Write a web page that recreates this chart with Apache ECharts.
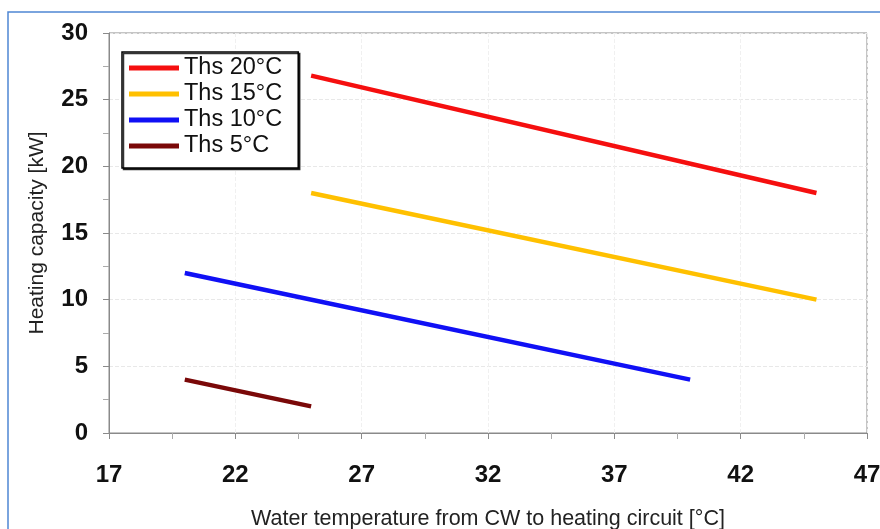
<!DOCTYPE html>
<html>
<head>
<meta charset="utf-8">
<script src="https://cdn.jsdelivr.net/npm/echarts@6/dist/echarts.min.js"></script>
<style>html,body{margin:0;padding:0;background:#fff;overflow:hidden;}#c{width:880px;height:529px;}</style>
</head>
<body>
<div id="c"></div>
<script>
var seriesNames = ['Ths 20°C', 'Ths 15°C', 'Ths 10°C', 'Ths 5°C'];
var x20 = [25, 45];  var y20 = [26.8, 18];
var x15 = [25, 45];  var y15 = [18, 10];
var x10 = [20, 40];  var y10 = [12, 4];
var x5  = [20, 25];  var y5  = [4, 2];
var xTicks = [17, 22, 27, 32, 37, 42, 47];
var yTicks = [0, 5, 10, 15, 20, 25, 30];
var colors = ['#f50f0f', '#ffc000', '#1010f5', '#7a0808'];

function pairs(xs, ys) { return xs.map(function (x, i) { return [x, ys[i]]; }); }
var allX = [x20, x15, x10, x5];
var allY = [y20, y15, y10, y5];

var chart = echarts.init(document.getElementById('c'));
chart.setOption({
  animation: false,
  backgroundColor: '#ffffff',
  graphic: [{
    type: 'rect', silent: true,
    shape: { x: 8, y: 12, width: 900, height: 600 },
    style: { fill: 'none', stroke: '#4f86d4', lineWidth: 1.5 }
  }],
  grid: { left: 109, right: 13, top: 33, bottom: 96, outerBoundsMode: 'none', containLabel: false,
    show: true, borderColor: '#8a8a8a', borderWidth: 1 },
  legend: {
    data: seriesNames,
    orient: 'vertical', left: 122, top: 52,
    padding: [3, 16, 9, 7],
    itemWidth: 50, itemHeight: 5, itemGap: 0,
    icon: 'rect',
    borderColor: '#000', borderWidth: 1.5,
    shadowColor: 'rgba(0,0,0,0.8)', shadowOffsetX: 1.5, shadowOffsetY: 1.5, shadowBlur: 0,
    backgroundColor: '#fff',
    textStyle: { fontFamily: 'Liberation Sans', fontSize: 23.5, lineHeight: 26, color: '#111' }
  },
  xAxis: {
    type: 'value', min: 17, max: 47, interval: 5,
    name: 'Water temperature from CW to heating circuit [°C]',
    nameLocation: 'middle', nameGap: 86,
    nameTextStyle: { fontFamily: 'Liberation Sans', fontSize: 21.5, color: '#222', verticalAlign: 'middle' },
    axisLine: { show: true, lineStyle: { color: '#8a8a8a', width: 1 } },
    axisTick: { show: true, inside: false, length: 6, lineStyle: { color: '#8a8a8a' } },
    minorTick: { show: true, splitNumber: 2, length: 6, lineStyle: { color: '#aaaaaa' } },
    axisLabel: { margin: 30, fontFamily: 'Liberation Sans', fontSize: 24, fontWeight: 'bold', color: '#111',
      formatter: function (v) { return xTicks.indexOf(v) >= 0 ? String(v) : ''; } },
    splitLine: { show: true, lineStyle: { color: '#f0f0f0', type: 'dashed' } }
  },
  yAxis: {
    type: 'value', min: 0, max: 30, interval: 5,
    name: 'Heating capacity [kW]',
    nameLocation: 'middle', nameGap: 72,
    nameTextStyle: { fontFamily: 'Liberation Sans', fontSize: 21, color: '#222', verticalAlign: 'middle' },
    axisLine: { show: true, lineStyle: { color: '#8a8a8a', width: 1 } },
    axisTick: { show: true, inside: false, length: 6, lineStyle: { color: '#8a8a8a' } },
    minorTick: { show: true, splitNumber: 2, length: 6, lineStyle: { color: '#aaaaaa' } },
    axisLabel: { margin: 21, fontFamily: 'Liberation Sans', fontSize: 24, fontWeight: 'bold', color: '#111',
      formatter: function (v) { return yTicks.indexOf(v) >= 0 ? String(v) : ''; } },
    splitLine: { show: true, lineStyle: { color: '#e8e8e8', type: 'dashed' } }
  },
  series: seriesNames.map(function (n, i) {
    return {
      name: n, type: 'line', data: pairs(allX[i], allY[i]),
      symbol: 'none', color: colors[i],
      lineStyle: { width: 4.5, color: colors[i] }
    };
  })
});
</script>
</body>
</html>
